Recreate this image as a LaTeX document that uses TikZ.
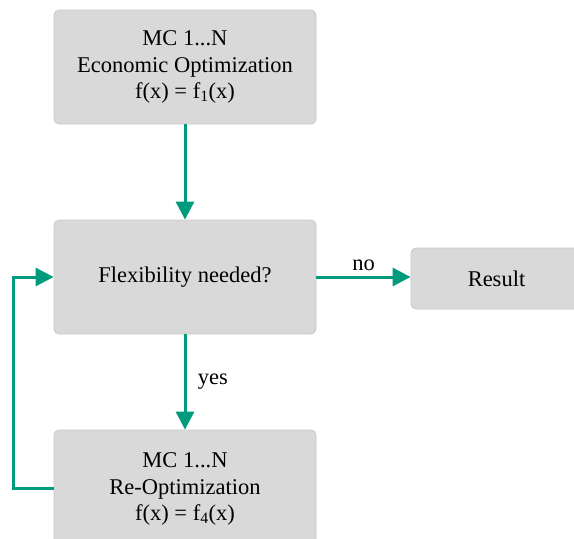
\documentclass[tikz,border=0pt]{standalone}
\usepackage{fontspec}
\setmainfont{Liberation Serif}
\usetikzlibrary{arrows.meta}
\definecolor{boxgray}{RGB}{217,217,217}
\definecolor{boxline}{RGB}{200,200,200}
\definecolor{flowteal}{RGB}{0,155,125}
\tikzset{
	blok/.style={draw=boxline, line width=0.8pt, fill=boxgray, rounded corners=5pt, align=center, inner sep=0pt, font=\fontsize{22.5}{26.5}\selectfont},
	flow/.style={draw=flowteal, line width=3pt, -{Triangle[length=18pt,width=18pt]}},
	lbl/.style={font=\fontsize{22.5}{26.5}\selectfont}
}

\begin{document}
\begin{tikzpicture}[x=1pt,y=-1pt]
		\useasboundingbox (0,0) rectangle (574,539);
		
		\node[blok, minimum width=262pt, minimum height=114pt] (econ) at (185,67) {MC 1...N\\Economic Optimization\\f(x) = f\textsubscript{1}(x)};
		\node[blok, minimum width=262pt, minimum height=114pt] (need) at (185,277) {Flexibility needed?};
		\node[blok, minimum width=262pt, minimum height=118pt] (reopt) at (185,489) {MC 1...N\\Re-Optimization\\f(x) = f\textsubscript{4}(x)};
		\node[blok, minimum width=171pt, minimum height=61pt] (res) at (496.5,278.5) {Result};
		
		\coordinate (c1) at (13,488);
		\coordinate (c2) at (13,277);
		
		\draw[flow] (econ) -- (need);
		\draw[flow] (need.east) -- (need.east -| res.west) node[lbl, midway, above=1pt] (no) {no};
		\draw[flow] (need) -- (reopt) node[lbl, midway, right=8pt] (yes) {yes};
		\draw[flow] (reopt.west |- c1) -- (c1) -- (c2) -- (need.west);
	\end{tikzpicture}
\end{document}
